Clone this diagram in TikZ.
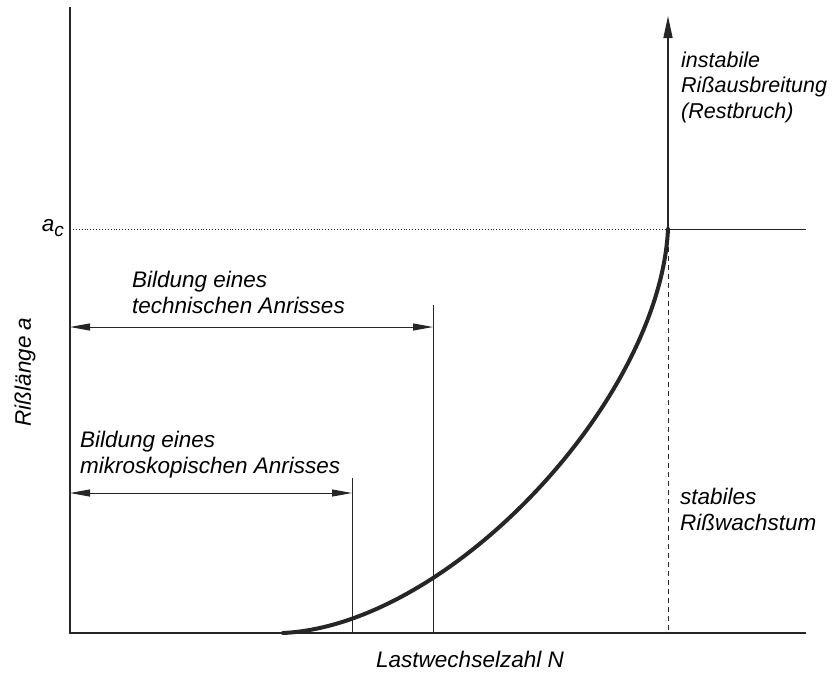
\documentclass[tikz,border=0pt]{standalone}
\usepackage{fontspec}
\setmainfont{Liberation Sans}
\usetikzlibrary{arrows.meta, calc}

\begin{document}
\begin{tikzpicture}[
    x=1pt, y=-1pt,
    font=\fontsize{22.5}{26}\selectfont\itshape,
    % Estilos
    axis/.style={line width=2pt, black!85},
    dimline/.style={line width=1pt, black!85, {Triangle[length=20pt, width=7pt]}-{Triangle[length=20pt, width=7pt]}},
    helpline/.style={line width=0.9pt, black!85},
    curvestyle/.style={line width=4pt, black!85, line cap=round},
    txt/.style={align=left, inner sep=0pt, anchor=base west}
]
\useasboundingbox (0,0) rectangle (832,673);

% -------------------------
% Ejes
% -------------------------
\coordinate (origin) at (70,633);
\coordinate (ytop) at (70,7);
\coordinate (xend) at (806,633);
\draw[axis] (ytop) -- (origin) -- (xend);

\node[rotate=90, inner sep=0pt] (ylabel) at (25,372) {Rißlänge a};
\node[inner sep=0pt, anchor=base] (xlabel) at (470,667) {Lastwechselzahl N};

% -------------------------
% Nivel critico a_c
% -------------------------
\coordinate (acleft) at (70,229);
\coordinate (acpoint) at (668,229);
\coordinate (acright) at (806,229);
\coordinate (acfoot) at (668,633);
\coordinate (fracturetop) at (668,16);

\node[inner sep=0pt, anchor=base east] (aclabel) at (64,231) {a\raisebox{-5pt}{\fontsize{19}{19}\selectfont c}};

\draw[helpline, dotted] (acleft) -- (acpoint);
\draw[helpline] (acpoint) -- (acright);
\draw[helpline, dash pattern=on 5pt off 4pt] (acpoint) -- (acfoot);
\draw[line width=1.5pt, black!85, -{Triangle[length=22pt, width=9pt]}] (acpoint) -- (fracturetop);

% -------------------------
% Curva de crecimiento
% -------------------------
\coordinate (cstart) at (283,633);
\draw[curvestyle] (cstart) .. controls (450,625) and (660,400) .. (acpoint);

% -------------------------
% Anrisse
% -------------------------
\coordinate (techtop) at (433,305);
\coordinate (techfoot) at (433,633);
\coordinate (techleft) at (70,327);
\coordinate (techright) at (433,327);
\draw[helpline] (techtop) -- (techfoot);
\draw[dimline] (techleft) -- (techright);
\node[txt] (techtext) at (132,313) {Bildung eines\\technischen Anrisses};

\coordinate (mikrotop) at (352,478);
\coordinate (mikrofoot) at (352,633);
\coordinate (mikroleft) at (70,493);
\coordinate (mikroright) at (352,493);
\draw[helpline] (mikrotop) -- (mikrofoot);
\draw[dimline] (mikroleft) -- (mikroright);
\node[txt] (mikrotext) at (80,473) {Bildung eines\\mikroskopischen Anrisses};

% -------------------------
% Bereiche rechts
% -------------------------
\node[txt, font=\fontsize{21.5}{25.5}\selectfont\itshape] (instabil) at (681,118) {instabile\\Rißausbreitung\\(Restbruch)};
\node[txt] (stabil) at (680,530) {stabiles\\Rißwachstum};

\end{tikzpicture}
\end{document}
